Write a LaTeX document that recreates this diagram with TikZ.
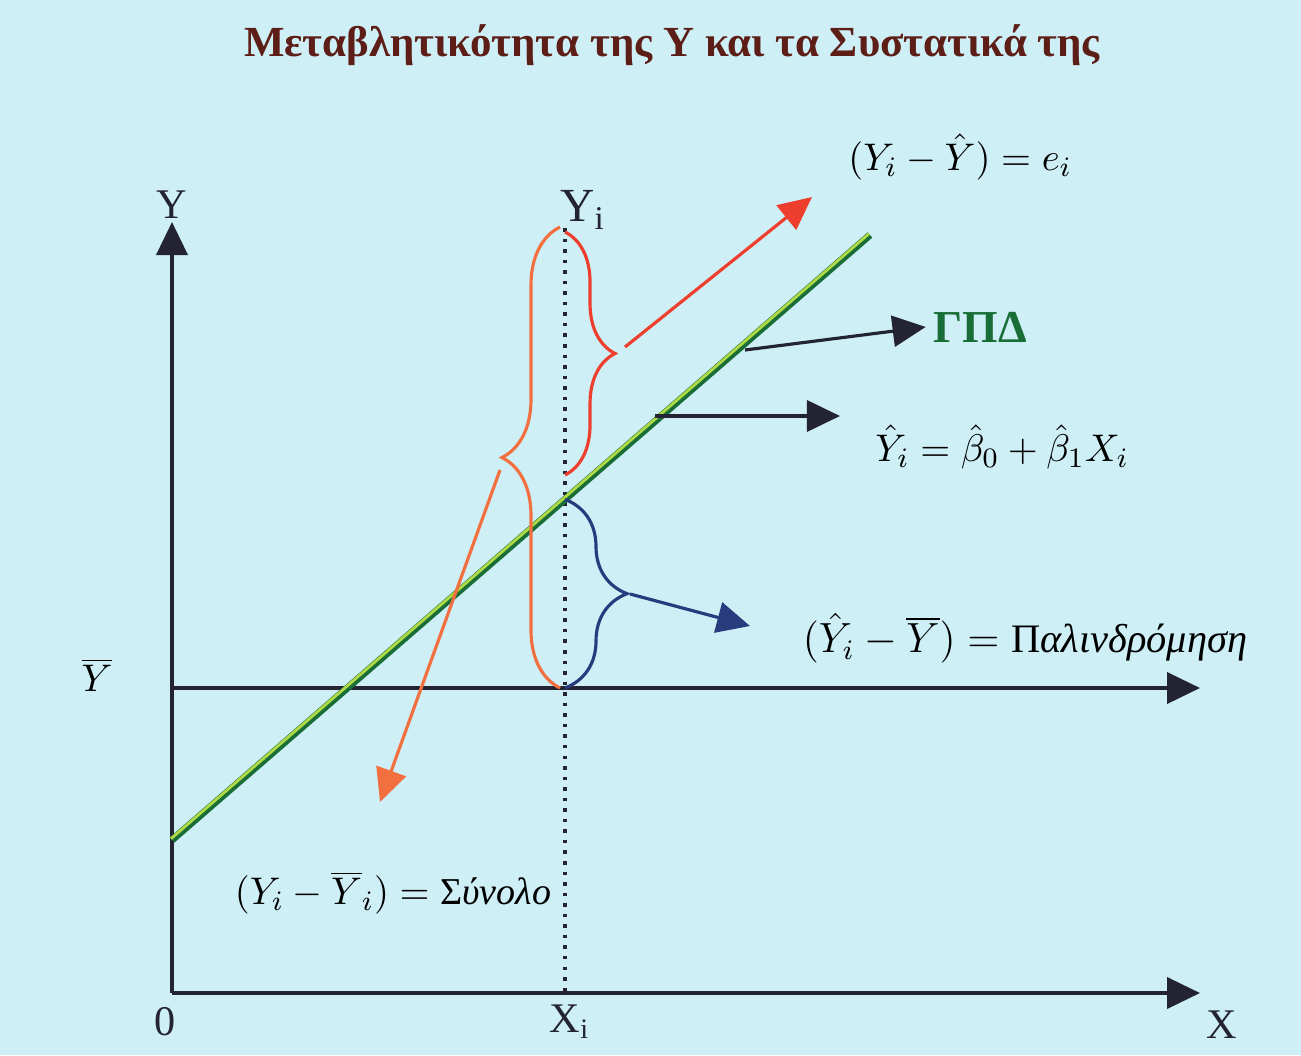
\documentclass[tikz,border=0pt]{standalone}
\usepackage{fontspec}
\setmainfont{Liberation Serif}
\usetikzlibrary{arrows.meta,calc,decorations.pathreplacing}

\definecolor{paper}{RGB}{206,239,246}
\definecolor{inkdark}{RGB}{35,35,50}
\definecolor{titlered}{RGB}{92,30,22}
\definecolor{resred}{RGB}{238,62,45}
\definecolor{totorange}{RGB}{242,112,64}
\definecolor{regblue}{RGB}{40,60,125}
\definecolor{fitgreen}{RGB}{25,110,55}
\definecolor{fitlime}{RGB}{175,218,70}

\begin{document}
\begin{tikzpicture}[x=0.01cm, y=-0.01cm, >={Triangle[length=0.33cm,width=0.31cm]},
		axis/.style={->, inkdark, line width=1.1pt},
		pointer/.style={->, line width=0.9pt},
		curly/.style={decorate, decoration={brace, amplitude=#1}, line width=0.9pt},
		lbl/.style={inner sep=1pt, font=\fontsize{10.8}{13}\selectfont},
		axlbl/.style={inner sep=1pt, font=\fontsize{12}{14}\selectfont, inkdark}]
			
			\fill[paper] (0,0) rectangle (1301,1055);
			\useasboundingbox (0,0) rectangle (1301,1055);
			
			\node[font=\fontsize{12.2}{14}\selectfont\bfseries, text=titlered] (title) at (672,45)
			{Μεταβλητικότητα της Υ και τα Συστατικά της};
			
			\coordinate (O) at (172,993);
			\coordinate (Ytop) at (172,222);
			\coordinate (Xend) at (1200,993);
			\coordinate (Ybar) at (172,688);
			\coordinate (Ybarend) at (1200,688);
			\coordinate (Xi) at (565,993);
			\coordinate (Yi) at (565,228);
			\coordinate (A) at (172,840);
			\coordinate (B) at (870,235);
			\coordinate (Hat) at ($(A)!0.563!(B)$);
			
			\draw[axis] (O) -- (Ytop);
			\draw[axis] (O) -- (Xend);
			\draw[axis] (Ybar) -- (Ybarend);
			\draw[inkdark, dotted, line width=1pt] (Yi) -- (Xi);
			
			\node[axlbl] (ylab) at (172,205) {Y};
			\node[axlbl] (xlab) at (1222,1025) {X};
			\node[axlbl] (olab) at (165,1022) {0};
			\node[axlbl] (xilab) at (570,1022) {X\textsubscript{i}};
			\node[axlbl, font=\fontsize{13.5}{15}\selectfont] (yilab) at (583,210) {Y\textsubscript{i}};
			\node[lbl] (ybarlab) at (97,675) {$\overline{Y}$};
			
			\draw[fitgreen, line width=2pt] (A) -- (B);
			\draw[fitlime, line width=0.8pt] ($(A)+(-1,-1.3)$) -- ($(B)+(-1,-1.3)$);
			
			\draw[curly=0.5cm, resred] (565,232) -- (565,475);
			\draw[curly=0.58cm, totorange] (560,688) -- (560,227);
			\draw[curly=0.62cm, regblue] (Hat) -- (565,688);
			
			\node[lbl] (eqE) at (960,157) {$(Y_i - \hat{Y}) = e_i$};
			\node[inner sep=2pt, font=\fontsize{13}{15}\selectfont\bfseries, text=fitgreen] (gpd) at (980,327) {ΓΠΔ};
			\node[lbl] (eqFit) at (1002,447) {$\hat{Y}_i = \hat{\beta}_0 + \hat{\beta}_1 X_i$};
			\node[lbl, font=\fontsize{11.5}{14}\selectfont] (eqReg) at (1025,638) {$(\hat{Y}_i - \overline{Y}) ={}$Π\textit{αλινδρόμηση}};
			\node[lbl] (eqTot) at (393,893) {$(Y_i - \overline{Y}_i) ={}$Σ\textit{ύνολο}};
			
			\coordinate (eS) at (625,347);
			\coordinate (eE) at (812,197);
			\coordinate (tS) at (500,470);
			\coordinate (tE) at (380,802);
			\coordinate (rS) at (630,594);
			\coordinate (rE) at (750,626);
			\coordinate (gS) at (745,350);
			\coordinate (fS) at (655,416);
			\coordinate (fE) at (840,416);
			
			\draw[pointer, resred] (eS) -- (eE);
			\draw[pointer, totorange] (tS) -- (tE);
			\draw[pointer, regblue] (rS) -- (rE);
			\draw[pointer, inkdark] (gS) -- (gpd.west);
			\draw[pointer, inkdark] (fS) -- (fE);
			
	\end{tikzpicture}
\end{document}
